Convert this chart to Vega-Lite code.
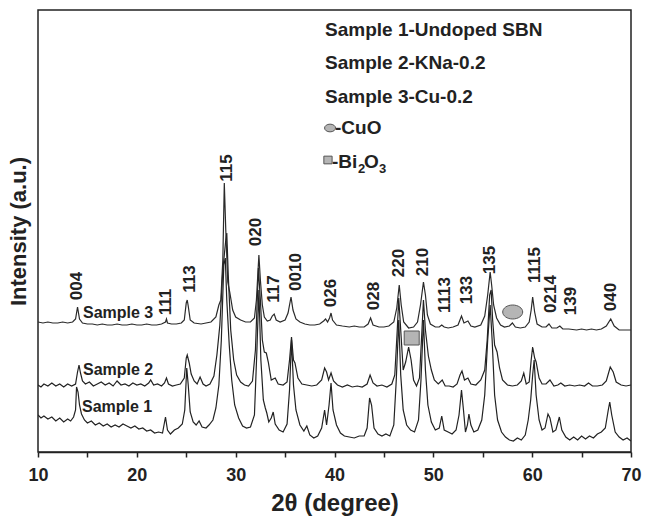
{
"$schema":"https://vega.github.io/schema/vega-lite/v6.json",
"width":593,"height":442,
"autosize":"none",
"padding":{"left":38,"top":10,"right":16,"bottom":72},
"config":{"font":"Liberation Sans","view":{"stroke":"#222","strokeWidth":1.5},
"axis":{"grid":false}},
"datasets":{
"s3":[{"theta":10.0,"intensity":130},{"theta":10.5,"intensity":129},{"theta":11.0,"intensity":130},{"theta":11.5,"intensity":129},{"theta":12.0,"intensity":129},{"theta":12.5,"intensity":130},{"theta":13.0,"intensity":129},{"theta":13.5,"intensity":130},{"theta":13.8,"intensity":133},{"theta":14.0,"intensity":145},{"theta":14.2,"intensity":133},{"theta":14.5,"intensity":129},{"theta":15.0,"intensity":128},{"theta":15.5,"intensity":128},{"theta":16.0,"intensity":127},{"theta":16.5,"intensity":128},{"theta":17.0,"intensity":127},{"theta":17.5,"intensity":127},{"theta":18.0,"intensity":128},{"theta":18.5,"intensity":127},{"theta":19.0,"intensity":127},{"theta":19.5,"intensity":128},{"theta":20.0,"intensity":127},{"theta":20.5,"intensity":127},{"theta":21.0,"intensity":128},{"theta":21.5,"intensity":127},{"theta":22.0,"intensity":127},{"theta":22.5,"intensity":128},{"theta":22.9,"intensity":130},{"theta":23.0,"intensity":133},{"theta":23.1,"intensity":129},{"theta":23.5,"intensity":128},{"theta":24.0,"intensity":128},{"theta":24.5,"intensity":129},{"theta":24.8,"intensity":132},{"theta":25.0,"intensity":149},{"theta":25.1,"intensity":152},{"theta":25.2,"intensity":146},{"theta":25.4,"intensity":132},{"theta":25.8,"intensity":129},{"theta":26.5,"intensity":128},{"theta":27.0,"intensity":129},{"theta":27.5,"intensity":130},{"theta":28.0,"intensity":135},{"theta":28.3,"intensity":147},{"theta":28.5,"intensity":152},{"theta":28.7,"intensity":192},{"theta":28.85,"intensity":269},{"theta":29.0,"intensity":222},{"theta":29.2,"intensity":170},{"theta":29.4,"intensity":160},{"theta":29.7,"intensity":142},{"theta":30.0,"intensity":135},{"theta":30.5,"intensity":132},{"theta":31.0,"intensity":130},{"theta":31.5,"intensity":130},{"theta":31.9,"intensity":134},{"theta":32.1,"intensity":152},{"theta":32.35,"intensity":197},{"theta":32.5,"intensity":172},{"theta":32.7,"intensity":147},{"theta":32.9,"intensity":135},{"theta":33.2,"intensity":131},{"theta":33.5,"intensity":132},{"theta":33.7,"intensity":136},{"theta":33.9,"intensity":138},{"theta":34.1,"intensity":132},{"theta":34.5,"intensity":130},{"theta":35.0,"intensity":132},{"theta":35.3,"intensity":139},{"theta":35.6,"intensity":155},{"theta":35.8,"intensity":142},{"theta":36.1,"intensity":133},{"theta":36.5,"intensity":130},{"theta":37.0,"intensity":128},{"theta":37.5,"intensity":127},{"theta":38.0,"intensity":127},{"theta":38.5,"intensity":128},{"theta":38.9,"intensity":131},{"theta":39.1,"intensity":133},{"theta":39.3,"intensity":130},{"theta":39.5,"intensity":134},{"theta":39.65,"intensity":139},{"theta":39.8,"intensity":132},{"theta":40.2,"intensity":127},{"theta":40.8,"intensity":126},{"theta":41.5,"intensity":125},{"theta":42.0,"intensity":126},{"theta":42.5,"intensity":125},{"theta":43.0,"intensity":125},{"theta":43.4,"intensity":128},{"theta":43.65,"intensity":134},{"theta":43.9,"intensity":127},{"theta":44.5,"intensity":125},{"theta":45.0,"intensity":125},{"theta":45.5,"intensity":126},{"theta":46.0,"intensity":130},{"theta":46.3,"intensity":144},{"theta":46.55,"intensity":167},{"theta":46.75,"intensity":147},{"theta":47.0,"intensity":130},{"theta":47.5,"intensity":124},{"theta":48.0,"intensity":125},{"theta":48.4,"intensity":130},{"theta":48.7,"intensity":147},{"theta":49.0,"intensity":170},{"theta":49.2,"intensity":157},{"theta":49.4,"intensity":137},{"theta":49.7,"intensity":128},{"theta":50.2,"intensity":125},{"theta":50.6,"intensity":125},{"theta":50.85,"intensity":127},{"theta":51.1,"intensity":125},{"theta":51.5,"intensity":124},{"theta":52.0,"intensity":125},{"theta":52.5,"intensity":127},{"theta":52.85,"intensity":136},{"theta":53.1,"intensity":129},{"theta":53.5,"intensity":131},{"theta":53.8,"intensity":126},{"theta":54.2,"intensity":125},{"theta":54.8,"intensity":127},{"theta":55.2,"intensity":136},{"theta":55.5,"intensity":157},{"theta":55.75,"intensity":180},{"theta":55.9,"intensity":167},{"theta":56.1,"intensity":147},{"theta":56.4,"intensity":134},{"theta":56.8,"intensity":127},{"theta":57.2,"intensity":125},{"theta":57.7,"intensity":126},{"theta":58.0,"intensity":129},{"theta":58.3,"intensity":125},{"theta":58.8,"intensity":124},{"theta":59.3,"intensity":125},{"theta":59.7,"intensity":130},{"theta":59.9,"intensity":142},{"theta":60.05,"intensity":155},{"theta":60.25,"intensity":140},{"theta":60.5,"intensity":128},{"theta":61.0,"intensity":125},{"theta":61.4,"intensity":125},{"theta":61.7,"intensity":128},{"theta":62.0,"intensity":124},{"theta":62.5,"intensity":124},{"theta":62.8,"intensity":126},{"theta":63.1,"intensity":123},{"theta":63.7,"intensity":123},{"theta":64.5,"intensity":122},{"theta":65.0,"intensity":123},{"theta":65.5,"intensity":122},{"theta":66.0,"intensity":123},{"theta":66.5,"intensity":122},{"theta":67.0,"intensity":123},{"theta":67.5,"intensity":126},{"theta":67.95,"intensity":133},{"theta":68.3,"intensity":126},{"theta":68.8,"intensity":122},{"theta":69.5,"intensity":122},{"theta":70.0,"intensity":122}],
"s2":[{"theta":10.0,"intensity":67},{"theta":10.3,"intensity":65},{"theta":10.6,"intensity":68},{"theta":11.0,"intensity":66},{"theta":11.4,"intensity":69},{"theta":11.8,"intensity":66},{"theta":12.2,"intensity":68},{"theta":12.6,"intensity":65},{"theta":13.0,"intensity":68},{"theta":13.4,"intensity":66},{"theta":13.8,"intensity":68},{"theta":14.0,"intensity":80},{"theta":14.15,"intensity":87},{"theta":14.3,"intensity":79},{"theta":14.5,"intensity":71},{"theta":14.8,"intensity":68},{"theta":15.2,"intensity":70},{"theta":15.6,"intensity":66},{"theta":16.0,"intensity":68},{"theta":16.4,"intensity":70},{"theta":16.8,"intensity":67},{"theta":17.2,"intensity":69},{"theta":17.6,"intensity":66},{"theta":18.0,"intensity":71},{"theta":18.4,"intensity":67},{"theta":18.8,"intensity":68},{"theta":19.2,"intensity":66},{"theta":19.6,"intensity":69},{"theta":20.0,"intensity":67},{"theta":20.4,"intensity":68},{"theta":20.8,"intensity":66},{"theta":21.2,"intensity":69},{"theta":21.4,"intensity":72},{"theta":21.7,"intensity":67},{"theta":22.1,"intensity":68},{"theta":22.5,"intensity":66},{"theta":22.8,"intensity":69},{"theta":23.0,"intensity":74},{"theta":23.2,"intensity":68},{"theta":23.6,"intensity":66},{"theta":24.0,"intensity":67},{"theta":24.4,"intensity":68},{"theta":24.8,"intensity":74},{"theta":25.0,"intensity":94},{"theta":25.1,"intensity":97},{"theta":25.3,"intensity":89},{"theta":25.5,"intensity":78},{"theta":25.8,"intensity":71},{"theta":26.1,"intensity":68},{"theta":26.4,"intensity":75},{"theta":26.7,"intensity":68},{"theta":27.0,"intensity":66},{"theta":27.4,"intensity":68},{"theta":27.8,"intensity":76},{"theta":28.1,"intensity":97},{"theta":28.4,"intensity":127},{"theta":28.7,"intensity":182},{"theta":29.0,"intensity":212},{"theta":29.1,"intensity":219},{"theta":29.25,"intensity":177},{"theta":29.5,"intensity":122},{"theta":29.8,"intensity":92},{"theta":30.1,"intensity":77},{"theta":30.5,"intensity":70},{"theta":30.9,"intensity":67},{"theta":31.3,"intensity":66},{"theta":31.7,"intensity":71},{"theta":32.0,"intensity":102},{"theta":32.3,"intensity":184},{"theta":32.5,"intensity":152},{"theta":32.7,"intensity":112},{"theta":32.9,"intensity":100},{"theta":33.1,"intensity":99},{"theta":33.3,"intensity":90},{"theta":33.6,"intensity":72},{"theta":34.0,"intensity":74},{"theta":34.3,"intensity":68},{"theta":34.8,"intensity":67},{"theta":35.2,"intensity":70},{"theta":35.45,"intensity":92},{"theta":35.65,"intensity":115},{"theta":35.85,"intensity":92},{"theta":36.0,"intensity":89},{"theta":36.3,"intensity":74},{"theta":36.7,"intensity":68},{"theta":37.2,"intensity":67},{"theta":37.7,"intensity":66},{"theta":38.2,"intensity":67},{"theta":38.7,"intensity":72},{"theta":39.0,"intensity":84},{"theta":39.2,"intensity":80},{"theta":39.4,"intensity":72},{"theta":39.65,"intensity":79},{"theta":39.9,"intensity":71},{"theta":40.3,"intensity":67},{"theta":40.8,"intensity":65},{"theta":41.3,"intensity":67},{"theta":41.8,"intensity":65},{"theta":42.3,"intensity":66},{"theta":42.8,"intensity":65},{"theta":43.3,"intensity":68},{"theta":43.6,"intensity":77},{"theta":43.9,"intensity":69},{"theta":44.3,"intensity":66},{"theta":44.8,"intensity":67},{"theta":45.3,"intensity":65},{"theta":45.8,"intensity":68},{"theta":46.1,"intensity":77},{"theta":46.35,"intensity":122},{"theta":46.5,"intensity":154},{"theta":46.7,"intensity":122},{"theta":46.95,"intensity":82},{"theta":47.2,"intensity":90},{"theta":47.5,"intensity":105},{"theta":47.75,"intensity":92},{"theta":48.0,"intensity":72},{"theta":48.3,"intensity":66},{"theta":48.6,"intensity":74},{"theta":48.85,"intensity":122},{"theta":49.0,"intensity":152},{"theta":49.2,"intensity":122},{"theta":49.5,"intensity":96},{"theta":49.8,"intensity":82},{"theta":50.1,"intensity":72},{"theta":50.5,"intensity":68},{"theta":50.9,"intensity":72},{"theta":51.2,"intensity":66},{"theta":51.6,"intensity":66},{"theta":52.0,"intensity":65},{"theta":52.4,"intensity":68},{"theta":52.7,"intensity":77},{"theta":52.9,"intensity":81},{"theta":53.15,"intensity":72},{"theta":53.5,"intensity":74},{"theta":53.8,"intensity":68},{"theta":54.3,"intensity":67},{"theta":54.8,"intensity":72},{"theta":55.2,"intensity":82},{"theta":55.45,"intensity":112},{"theta":55.7,"intensity":157},{"theta":55.85,"intensity":162},{"theta":56.0,"intensity":132},{"theta":56.2,"intensity":107},{"theta":56.45,"intensity":100},{"theta":56.7,"intensity":84},{"theta":57.0,"intensity":72},{"theta":57.5,"intensity":67},{"theta":58.0,"intensity":66},{"theta":58.5,"intensity":67},{"theta":58.9,"intensity":71},{"theta":59.15,"intensity":79},{"theta":59.4,"intensity":68},{"theta":59.7,"intensity":70},{"theta":59.9,"intensity":92},{"theta":60.05,"intensity":105},{"theta":60.25,"intensity":94},{"theta":60.4,"intensity":90},{"theta":60.7,"intensity":74},{"theta":61.0,"intensity":68},{"theta":61.4,"intensity":68},{"theta":61.8,"intensity":72},{"theta":62.2,"intensity":66},{"theta":62.6,"intensity":67},{"theta":62.9,"intensity":69},{"theta":63.3,"intensity":66},{"theta":63.8,"intensity":67},{"theta":64.3,"intensity":66},{"theta":64.8,"intensity":67},{"theta":65.3,"intensity":66},{"theta":65.7,"intensity":69},{"theta":66.1,"intensity":66},{"theta":66.6,"intensity":66},{"theta":67.1,"intensity":67},{"theta":67.5,"intensity":71},{"theta":67.9,"intensity":85},{"theta":68.2,"intensity":80},{"theta":68.5,"intensity":70},{"theta":69.0,"intensity":67},{"theta":69.5,"intensity":66},{"theta":70.0,"intensity":67}],
"s1":[{"theta":10.0,"intensity":37},{"theta":10.3,"intensity":34},{"theta":10.6,"intensity":36},{"theta":11.0,"intensity":33},{"theta":11.4,"intensity":35},{"theta":11.8,"intensity":31},{"theta":12.2,"intensity":34},{"theta":12.6,"intensity":30},{"theta":13.0,"intensity":33},{"theta":13.3,"intensity":31},{"theta":13.6,"intensity":35},{"theta":13.8,"intensity":42},{"theta":13.9,"intensity":65},{"theta":14.05,"intensity":60},{"theta":14.2,"intensity":47},{"theta":14.4,"intensity":38},{"theta":14.7,"intensity":32},{"theta":15.0,"intensity":29},{"theta":15.4,"intensity":31},{"theta":15.8,"intensity":27},{"theta":16.2,"intensity":29},{"theta":16.6,"intensity":26},{"theta":17.0,"intensity":28},{"theta":17.4,"intensity":25},{"theta":17.8,"intensity":27},{"theta":18.2,"intensity":25},{"theta":18.6,"intensity":28},{"theta":19.0,"intensity":26},{"theta":19.4,"intensity":24},{"theta":19.8,"intensity":26},{"theta":20.2,"intensity":23},{"theta":20.6,"intensity":24},{"theta":21.0,"intensity":21},{"theta":21.4,"intensity":22},{"theta":21.8,"intensity":19},{"theta":22.2,"intensity":20},{"theta":22.6,"intensity":19},{"theta":22.9,"intensity":35},{"theta":23.1,"intensity":22},{"theta":23.4,"intensity":18},{"theta":23.8,"intensity":22},{"theta":24.2,"intensity":24},{"theta":24.6,"intensity":28},{"theta":24.85,"intensity":42},{"theta":25.05,"intensity":84},{"theta":25.2,"intensity":67},{"theta":25.4,"intensity":40},{"theta":25.7,"intensity":30},{"theta":26.0,"intensity":27},{"theta":26.3,"intensity":31},{"theta":26.6,"intensity":25},{"theta":27.0,"intensity":24},{"theta":27.3,"intensity":27},{"theta":27.7,"intensity":32},{"theta":28.0,"intensity":44},{"theta":28.3,"intensity":67},{"theta":28.55,"intensity":112},{"theta":28.8,"intensity":187},{"theta":28.95,"intensity":194},{"theta":29.1,"intensity":152},{"theta":29.35,"intensity":107},{"theta":29.6,"intensity":72},{"theta":29.9,"intensity":47},{"theta":30.3,"intensity":34},{"theta":30.7,"intensity":26},{"theta":31.1,"intensity":24},{"theta":31.5,"intensity":25},{"theta":31.9,"intensity":37},{"theta":32.15,"intensity":102},{"theta":32.35,"intensity":162},{"theta":32.55,"intensity":92},{"theta":32.8,"intensity":52},{"theta":33.0,"intensity":44},{"theta":33.15,"intensity":39},{"theta":33.35,"intensity":30},{"theta":33.6,"intensity":34},{"theta":33.8,"intensity":40},{"theta":34.0,"intensity":28},{"theta":34.4,"intensity":22},{"theta":34.8,"intensity":20},{"theta":35.2,"intensity":28},{"theta":35.45,"intensity":62},{"theta":35.65,"intensity":112},{"theta":35.85,"intensity":67},{"theta":36.1,"intensity":42},{"theta":36.5,"intensity":27},{"theta":36.9,"intensity":21},{"theta":37.2,"intensity":26},{"theta":37.5,"intensity":17},{"theta":37.9,"intensity":14},{"theta":38.3,"intensity":16},{"theta":38.7,"intensity":24},{"theta":39.0,"intensity":42},{"theta":39.2,"intensity":27},{"theta":39.45,"intensity":47},{"theta":39.65,"intensity":69},{"theta":39.85,"intensity":42},{"theta":40.2,"intensity":27},{"theta":40.6,"intensity":19},{"theta":41.0,"intensity":16},{"theta":41.5,"intensity":15},{"theta":42.0,"intensity":14},{"theta":42.5,"intensity":16},{"theta":43.0,"intensity":16},{"theta":43.3,"intensity":24},{"theta":43.55,"intensity":54},{"theta":43.75,"intensity":47},{"theta":44.0,"intensity":24},{"theta":44.4,"intensity":18},{"theta":44.8,"intensity":16},{"theta":45.2,"intensity":18},{"theta":45.6,"intensity":16},{"theta":46.0,"intensity":27},{"theta":46.25,"intensity":72},{"theta":46.5,"intensity":132},{"theta":46.7,"intensity":77},{"theta":46.95,"intensity":42},{"theta":47.3,"intensity":27},{"theta":47.7,"intensity":22},{"theta":48.1,"intensity":20},{"theta":48.5,"intensity":32},{"theta":48.75,"intensity":72},{"theta":49.0,"intensity":132},{"theta":49.2,"intensity":82},{"theta":49.45,"intensity":47},{"theta":49.8,"intensity":30},{"theta":50.2,"intensity":22},{"theta":50.6,"intensity":24},{"theta":50.85,"intensity":36},{"theta":51.1,"intensity":22},{"theta":51.5,"intensity":20},{"theta":51.9,"intensity":18},{"theta":52.3,"intensity":22},{"theta":52.6,"intensity":37},{"theta":52.85,"intensity":62},{"theta":53.05,"intensity":42},{"theta":53.25,"intensity":20},{"theta":53.45,"intensity":27},{"theta":53.6,"intensity":38},{"theta":53.8,"intensity":27},{"theta":54.1,"intensity":20},{"theta":54.5,"intensity":22},{"theta":54.9,"intensity":32},{"theta":55.2,"intensity":57},{"theta":55.5,"intensity":112},{"theta":55.75,"intensity":147},{"theta":55.95,"intensity":112},{"theta":56.2,"intensity":57},{"theta":56.5,"intensity":32},{"theta":56.9,"intensity":20},{"theta":57.3,"intensity":15},{"theta":57.7,"intensity":12},{"theta":58.1,"intensity":11},{"theta":58.5,"intensity":14},{"theta":58.9,"intensity":12},{"theta":59.3,"intensity":17},{"theta":59.6,"intensity":32},{"theta":59.85,"intensity":52},{"theta":60.05,"intensity":77},{"theta":60.2,"intensity":92},{"theta":60.4,"intensity":57},{"theta":60.7,"intensity":32},{"theta":61.0,"intensity":22},{"theta":61.3,"intensity":24},{"theta":61.6,"intensity":38},{"theta":61.8,"intensity":34},{"theta":62.1,"intensity":20},{"theta":62.4,"intensity":22},{"theta":62.75,"intensity":35},{"theta":63.0,"intensity":22},{"theta":63.4,"intensity":15},{"theta":63.8,"intensity":12},{"theta":64.2,"intensity":15},{"theta":64.6,"intensity":12},{"theta":65.0,"intensity":16},{"theta":65.4,"intensity":13},{"theta":65.8,"intensity":16},{"theta":66.2,"intensity":14},{"theta":66.6,"intensity":18},{"theta":67.0,"intensity":20},{"theta":67.4,"intensity":24},{"theta":67.7,"intensity":42},{"theta":67.85,"intensity":50},{"theta":68.05,"intensity":37},{"theta":68.4,"intensity":20},{"theta":68.8,"intensity":15},{"theta":69.2,"intensity":12},{"theta":69.6,"intensity":14},{"theta":70.0,"intensity":11}],
"peaks":[{"theta":13.92,"intensity":166,"label":"004"},{"theta":23.0,"intensity":150,"label":"111"},{"theta":25.4,"intensity":173,"label":"113"},{"theta":29.09,"intensity":284,"label":"115"},{"theta":32.1,"intensity":220,"label":"020"},{"theta":33.9,"intensity":163,"label":"117"},{"theta":36.1,"intensity":180,"label":"0010"},{"theta":39.6,"intensity":159,"label":"026"},{"theta":44.0,"intensity":156,"label":"028"},{"theta":46.5,"intensity":189,"label":"220"},{"theta":49.0,"intensity":190,"label":"210"},{"theta":51.2,"intensity":157,"label":"1113"},{"theta":53.4,"intensity":162,"label":"133"},{"theta":55.75,"intensity":192,"label":"135"},{"theta":60.3,"intensity":187,"label":"1115"},{"theta":61.9,"intensity":158,"label":"0214"},{"theta":63.9,"intensity":151,"label":"139"},{"theta":68.0,"intensity":155,"label":"040"}],
"samples":[{"theta":14.55,"intensity":139,"label":"Sample 3"},{"theta":14.55,"intensity":82,"label":"Sample 2"},{"theta":14.45,"intensity":45,"label":"Sample 1"}],
"legend":[{"theta":39.04,"intensity":422,"label":"Sample 1-Undoped SBN"},{"theta":39.04,"intensity":389,"label":"Sample 2-KNa-0.2"},{"theta":39.04,"intensity":355,"label":"Sample 3-Cu-0.2"},{"theta":40.05,"intensity":324,"label":"-CuO"},{"theta":39.75,"intensity":290,"label":"-Bi"},{"theta":42.99,"intensity":290,"label":"O"}],
"legendsub":[{"theta":42.38,"intensity":290,"label":"2"},{"theta":44.5,"intensity":290,"label":"3"}],
"markers":[{"theta":58.03,"intensity":140,"kind":"CuO","where":"plot"},{"theta":47.81,"intensity":114,"kind":"Bi2O3","where":"plot"},{"theta":39.55,"intensity":324,"kind":"CuO","where":"legend"},{"theta":39.34,"intensity":292,"kind":"Bi2O3","where":"legend"}]
},
"encoding":{
"x":{"field":"theta","type":"quantitative","scale":{"domain":[10,70],"nice":false,"zero":false},
"axis":{"title":"2θ (degree)","values":[10,15,20,25,30,35,40,45,50,55,60,65,70],"labelExpr":"datum.value % 10 == 0 ? datum.label : ''","labelFontSize":18,"labelFontWeight":"bold","labelColor":"#222","tickColor":"#222","tickSize":5,"tickWidth":1.5,"domainColor":"#222","domainWidth":1.5,"labelPadding":9,"titleFontSize":24,"titleFontWeight":"bold","titleColor":"#222","titlePadding":7,"labelFlush":false}},
"y":{"field":"intensity","type":"quantitative","scale":{"domain":[0,442],"nice":false,"zero":false},
"axis":{"title":"Intensity (a.u.)","labels":false,"ticks":false,"domain":false,"titleFontSize":22,"titleFontWeight":"bold","titleColor":"#222","titlePadding":8}}
},
"layer":[
{"data":{"name":"s1"},"mark":{"type":"line","color":"#222","strokeWidth":1.2,"clip":true}},
{"data":{"name":"s2"},"mark":{"type":"line","color":"#222","strokeWidth":1.2,"clip":true}},
{"data":{"name":"s3"},"mark":{"type":"line","color":"#2a2a2a","strokeWidth":1.2,"clip":true}},
{"data":{"name":"peaks"},"mark":{"type":"text","angle":270,"align":"center","baseline":"middle","fontSize":17,"fontWeight":"bold","color":"#222"},"encoding":{"text":{"field":"label"}}},
{"data":{"name":"samples"},"mark":{"type":"text","align":"left","baseline":"middle","fontSize":16,"fontWeight":"bold","color":"#222"},"encoding":{"text":{"field":"label"}}},
{"data":{"name":"legend"},"mark":{"type":"text","align":"left","baseline":"middle","fontSize":19,"fontWeight":"bold","color":"#222"},"encoding":{"text":{"field":"label"}}},
{"data":{"name":"legendsub"},"mark":{"type":"text","align":"left","baseline":"middle","fontSize":13,"fontWeight":"bold","color":"#222","dy":7},"encoding":{"text":{"field":"label"}}},
{"data":{"name":"markers"},"mark":{"type":"point","filled":true,"fill":"#b5b5b5","stroke":"#555","strokeWidth":1,"opacity":1},
"encoding":{"shape":{"field":"kind","type":"nominal","scale":{"domain":["CuO","Bi2O3"],"range":["M-1,0A1,0.7,0,1,1,1,0A1,0.7,0,1,1,-1,0Z","M-0.75,-0.7L0.75,-0.7L0.75,0.7L-0.75,0.7Z"]},"legend":null},
"size":{"field":"where","type":"ordinal","scale":{"domain":["plot","legend"],"range":[400,121]},"legend":null}}}
]
}
